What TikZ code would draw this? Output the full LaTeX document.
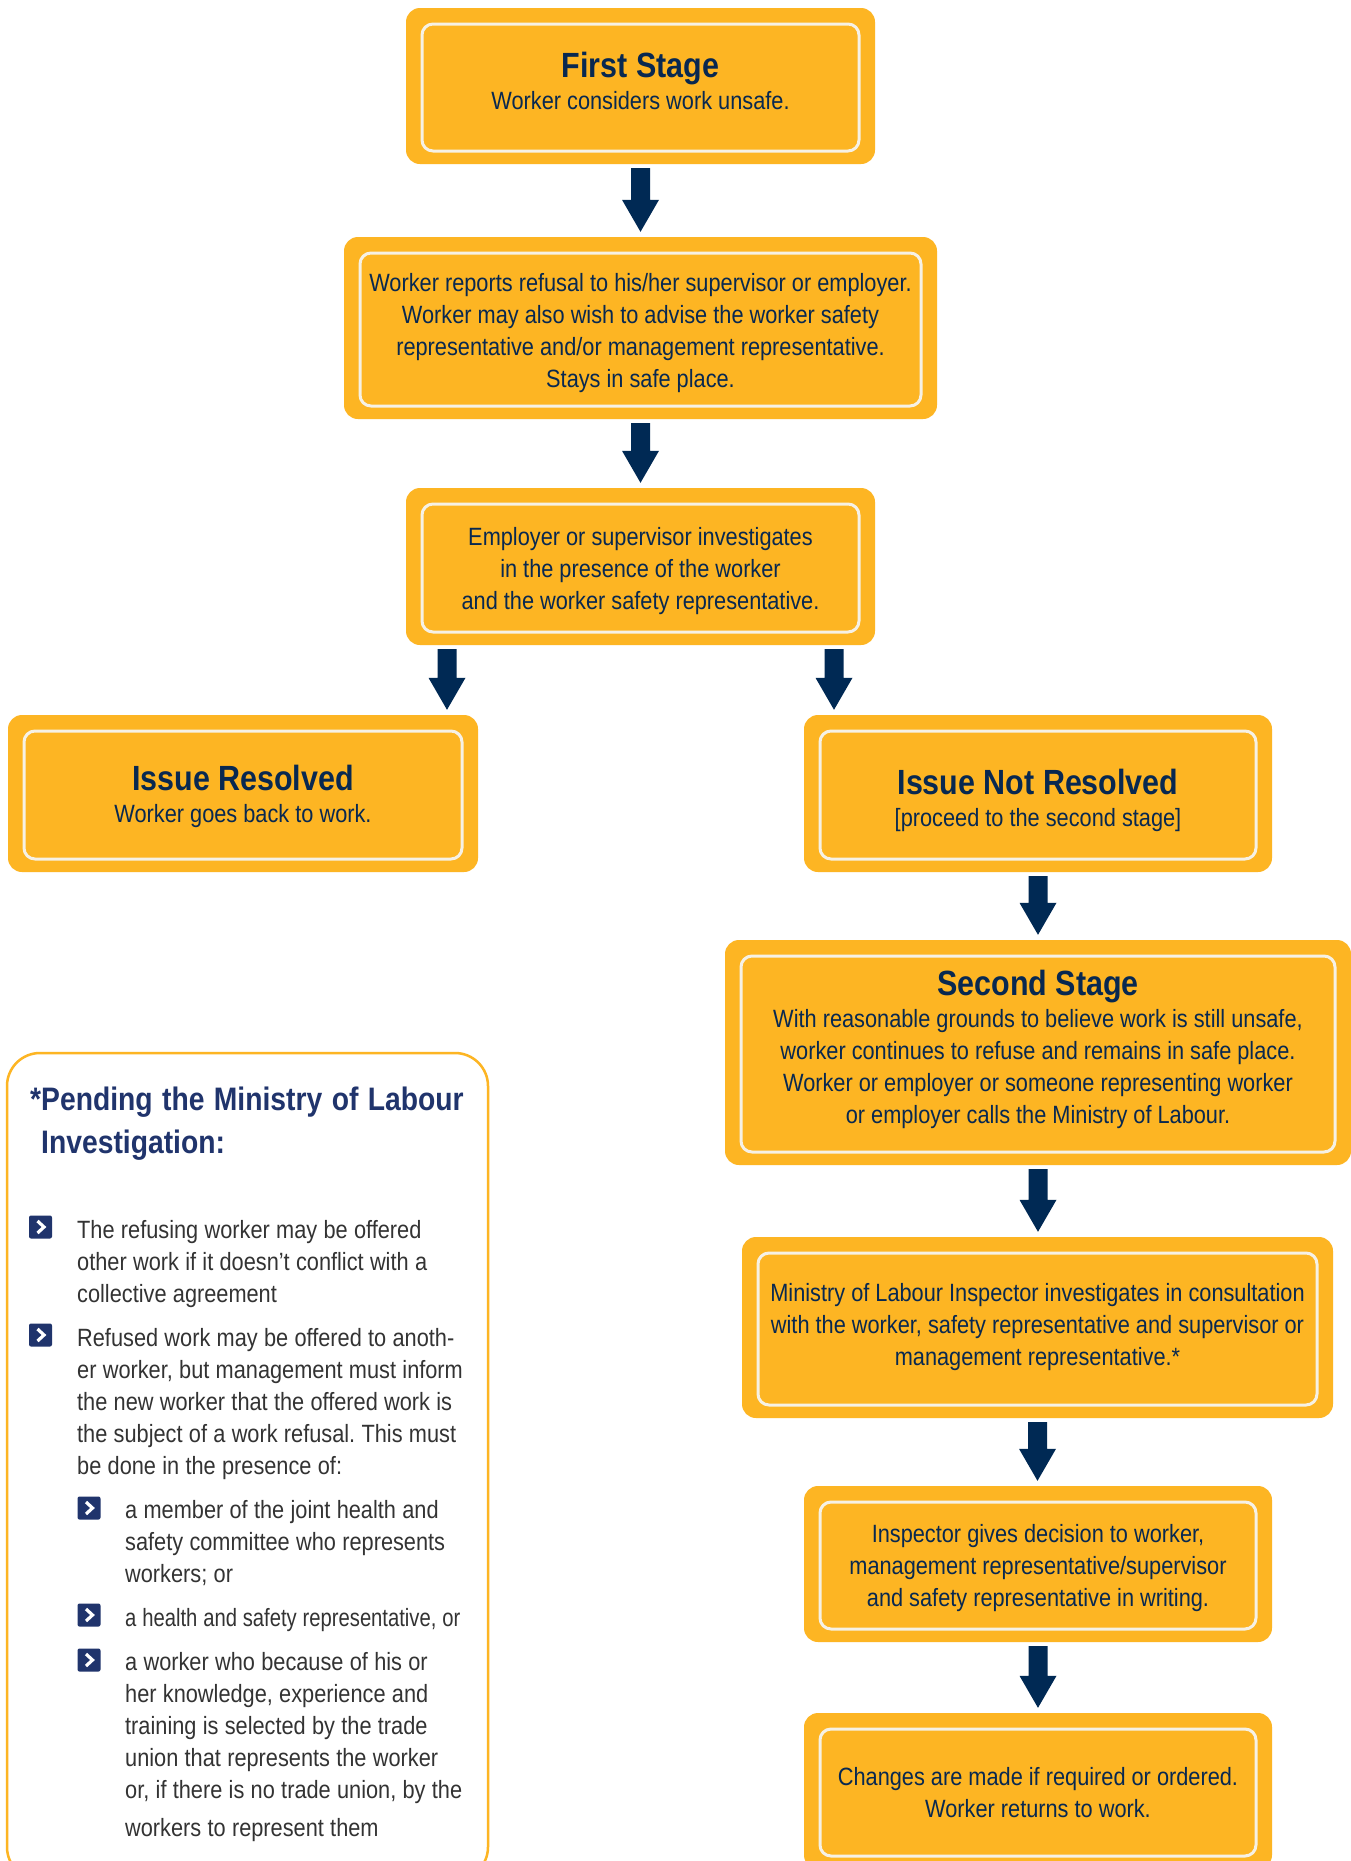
\documentclass[tikz,border=0pt]{standalone}
\usepackage{fontspec}
\setmainfont{Liberation Sans}[FakeStretch=0.87]
\usepackage{tikz}
\usetikzlibrary{calc}

\definecolor{boxorange}{RGB}{253,181,35}
\definecolor{boxtext}{RGB}{8,40,80}
\definecolor{arrowblue}{RGB}{0,41,84}
\definecolor{paneltitle}{RGB}{32,52,108}
\definecolor{paneltext}{RGB}{51,51,51}
\definecolor{innerline}{RGB}{246,241,229}

\tikzset{
  stagebox/.style={rectangle,rounded corners=14pt,fill=boxorange,text=boxtext,
    inner sep=0pt,font=\fontsize{25}{32}\selectfont,
    path picture={\draw[innerline,line width=3pt,rounded corners=11pt]
      ([shift={(16pt,-16pt)}]path picture bounding box.north west) rectangle
      ([shift={(-16pt,13pt)}]path picture bounding box.south east);}},
  bulletsq/.style={rectangle,rounded corners=2pt,fill=paneltitle,minimum size=23pt,inner sep=0pt,
    path picture={\draw[white,line width=3.2pt,sharp corners]
      ([shift={(-3pt,6pt)}]path picture bounding box.center) --
      ([shift={(3.5pt,0pt)}]path picture bounding box.center) --
      ([shift={(-3pt,-6pt)}]path picture bounding box.center);}},
  bullettext/.style={anchor=base west,inner sep=0pt,text width=400pt,align=flush left,text=paneltext,
    font={\frenchspacing\fontsize{25}{32}\selectfont\spaceskip 6.3pt plus 2pt minus 1pt\relax}},
}

% block arrow from a box down to the next one
\newcommand{\flowarrow}[2]{%
  \fill[arrowblue] let \p1=(#1), \p2=(#2) in
    (\x1-9.5pt,\y1-4pt) -- (\x1+9.5pt,\y1-4pt) -- (\x1+9.5pt,\y2+37pt) --
    (\x1+18.5pt,\y2+37pt) -- (\x1,\y2+5pt) -- (\x1-18.5pt,\y2+37pt) --
    (\x1-9.5pt,\y2+37pt) -- cycle;}

% centred lines of a box, raised by #1
\newcommand{\boxlines}[2]{\raisebox{#1}[\height][\depth]{\begin{tabular}{@{}c@{}}#2\end{tabular}}}
\newcommand{\stagetitle}[1]{{\fontsize{35}{38}\selectfont\bfseries #1}}

\begin{document}
\begin{tikzpicture}[x=1pt,y=-1pt]
\useasboundingbox (0,0) rectangle (1351,1861);
\clip (0,0) rectangle (1351,1861);
\fill[white] (0,0) rectangle (1351,1861);

% flow boxes
\node[stagebox,minimum width=469pt,minimum height=156pt] (first) at (640.5,86)
  {\boxlines{0.5pt}{\stagetitle{First Stage}\\Worker considers work unsafe.}};
\node[stagebox,minimum width=593pt,minimum height=182pt] (report) at (640.5,328)
  {\boxlines{-4.8pt}{Worker reports refusal to his/her supervisor or employer.\\
   Worker may also wish to advise the worker safety\\
   representative and/or management representative.\\
   Stays in safe place.}};
\node[stagebox,minimum width=469pt,minimum height=157pt] (check) at (640.5,566.5)
  {\boxlines{-4.4pt}{Employer or supervisor investigates\\
   in the presence of the worker\\
   and the worker safety representative.}};
\node[stagebox,minimum width=470pt,minimum height=157pt] (resolved) at (243,793.5)
  {\boxlines{-5.5pt}{\stagetitle{Issue Resolved}\\Worker goes back to work.}};
\node[stagebox,minimum width=468pt,minimum height=157pt] (notresolved) at (1038,793.5)
  {\boxlines{-9pt}{\stagetitle{Issue Not Resolved}\\{}[proceed to the second stage]}};
\node[stagebox,minimum width=626pt,minimum height=225pt] (second) at (1038,1052.5)
  {\boxlines{1.2pt}{\stagetitle{Second Stage}\\
   With reasonable grounds to believe work is still unsafe,\\
   worker continues to refuse and remains in safe place.\\
   Worker or employer or someone representing worker\\
   or employer calls the Ministry of Labour.}};
\node[stagebox,minimum width=591pt,minimum height=181pt] (ministry) at (1037.5,1327.5)
  {\boxlines{0pt}{Ministry of Labour Inspector investigates in consultation\\
   with the worker, safety representative and supervisor or\\
   management representative.*}};
\node[stagebox,minimum width=468pt,minimum height=156pt] (decision) at (1038,1564)
  {\boxlines{-4.1pt}{Inspector gives decision to worker,\\
   management representative/supervisor\\
   and safety representative in writing.}};
\node[stagebox,minimum width=468pt,minimum height=156pt] (changes) at (1038,1791)
  {\boxlines{-4.5pt}{Changes are made if required or ordered.\\
   Worker returns to work.}};

% arrows
\flowarrow{first.south}{report.north}
\flowarrow{report.south}{check.north}
\flowarrow{$(check.south)+(-193.5pt,0pt)$}{resolved.north}
\flowarrow{$(check.south)+(193.5pt,0pt)$}{notresolved.north}
\flowarrow{notresolved.south}{second.north}
\flowarrow{second.south}{ministry.north}
\flowarrow{ministry.south}{decision.north}
\flowarrow{decision.south}{changes.north}

% side panel
\draw[boxorange,line width=2.5pt,rounded corners=33pt] (7,1053) rectangle (488,1880);
\node[anchor=base west,inner sep=0pt,text width=460pt,align=flush left,text=paneltitle,
  font={\bfseries\fontsize{32.5}{43}\selectfont\spaceskip 9.4pt\relax}] (pending) at (30,1110)
  {*Pending the Ministry of Labour\\\phantom{*}Investigation:};

\node[bulletsq] (b1) at (40.5,1227) {};
\node[bullettext] (t1) at (77,1238)
  {The refusing worker may be offered\\
   other work if it doesn’t conflict with a\\
   collective agreement};
\node[bulletsq] (b2) at (40.5,1335) {};
\node[bullettext] (t2) at (77,1346)
  {Refused work may be offered to anoth-\\
   er worker, but management must inform\\
   the new worker that the offered work is\\
   the subject of a work refusal. This must\\
   be done in the presence of:};
\node[bulletsq] (b3) at (89,1508) {};
\node[bullettext] (t3) at (125,1518)
  {a member of the joint health and\\
   safety committee who represents\\
   workers; or};
\node[bulletsq] (b4) at (89,1615) {};
\node[bullettext] (t4) at (125,1626)
  {\scalebox{0.93}[1]{a health and safety representative, or}};
\node[bulletsq] (b5) at (89,1660) {};
\node[bullettext] (t5) at (125,1670)
  {a worker who because of his or\\
   her knowledge, experience and\\
   training is selected by the trade\\
   union that represents the worker\\
   or, if there is no trade union, by the\\[6pt]
   workers to represent them};
\end{tikzpicture}
\end{document}
